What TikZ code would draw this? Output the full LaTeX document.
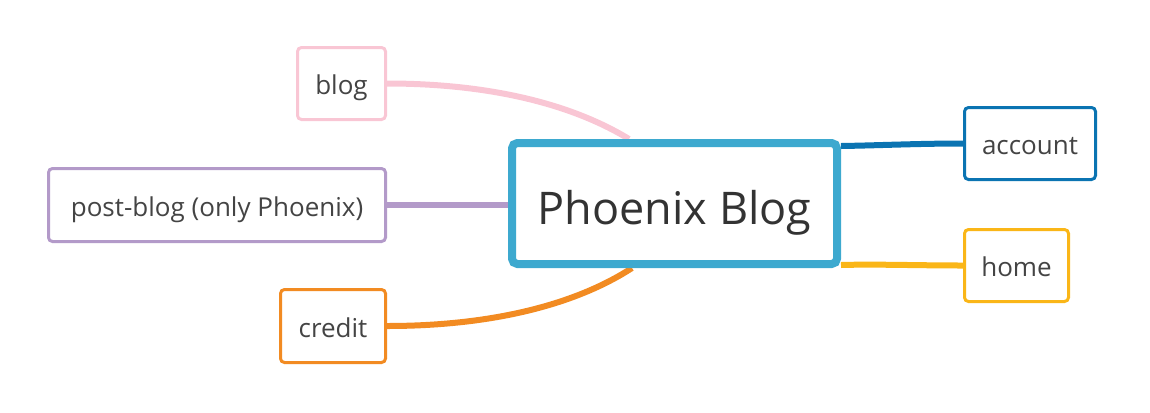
\documentclass[tikz,border=0pt]{standalone}
\usepackage{fontspec}
\setmainfont{Open Sans}
\usepackage{xcolor}
\definecolor{Ink}{HTML}{333333}
\definecolor{InkSoft}{HTML}{444444}
\definecolor{RootLine}{HTML}{3DA9CF}
\definecolor{BlogPink}{HTML}{F9C6D4}
\definecolor{PostPurple}{HTML}{B39AC9}
\definecolor{CreditOrange}{HTML}{F28B22}
\definecolor{AccountBlue}{HTML}{0B74B2}
\definecolor{HomeYellow}{HTML}{FAB618}
\usetikzlibrary{calc, backgrounds}

\begin{document}
\begin{tikzpicture}[x=0.75pt, y=-0.75pt,
  root/.style={rectangle, rounded corners=4pt, draw=RootLine, line width=6pt, fill=white,
               minimum width=243.75pt, minimum height=90.75pt, inner sep=0pt,
               text height=31.2pt, text depth=0pt,
               text=Ink, font=\fontsize{33.75}{40}\selectfont},
  leaf/.style={rectangle, rounded corners=3pt, line width=2.25pt, fill=white,
               minimum height=54pt, inner sep=0pt,
               text height=17.2pt, text depth=0pt,
               text=InkSoft, font=\fontsize{19.5}{24}\selectfont},
  link/.style={line width=4.5pt}
]
\useasboundingbox (0,0) rectangle (1150,412);

%% ---- Central topic ----
\node[root] (center) at (674.5,203.5) {Phoenix Blog};

%% ---- Left branches ----
\node[leaf, draw=BlogPink, minimum width=66pt]       (blog)   at (341.5,83.5) {blog};
\node[leaf, draw=PostPurple, minimum width=252.75pt, minimum height=54.75pt] (postblog) at (217,205) {post-blog (only Phoenix)};
\node[leaf, draw=CreditOrange, minimum width=78.75pt, minimum height=54.75pt] (credit) at (333,326) {credit};

%% ---- Right branches ----
\node[leaf, draw=AccountBlue, minimum width=98.25pt] (account) at (1030,143.5) {account};
\node[leaf, draw=HomeYellow, minimum width=78pt]     (home)    at (1016.5,265.5) {home};

%% ---- Connectors, kept under the boxes ----
\coordinate (blogend)    at ($(center.north west)+(121,0)$);
\coordinate (creditend)  at ($(center.south west)+(124,0)$);
\coordinate (accountend) at ($(center.north east)+(0,7)$);
\coordinate (homeend)    at ($(center.south east)+(0,-3)$);
\begin{scope}[on background layer]
  \draw[link, BlogPink]     (blog.east) .. controls (487,83.5) and (570,103) .. (blogend);
  \draw[link, PostPurple]   (postblog.east) -- (postblog.east -| center.west);
  \draw[link, CreditOrange] (credit.east) .. controls (491,326) and (575,305) .. (creditend);
  \draw[link, AccountBlue]  (accountend) .. controls (876,145.5) and (918,143.5) .. (account.west);
  \draw[link, HomeYellow]   (homeend) .. controls (876,264) and (918,265.5) .. (home.west);
\end{scope}

\end{tikzpicture}
\end{document}
